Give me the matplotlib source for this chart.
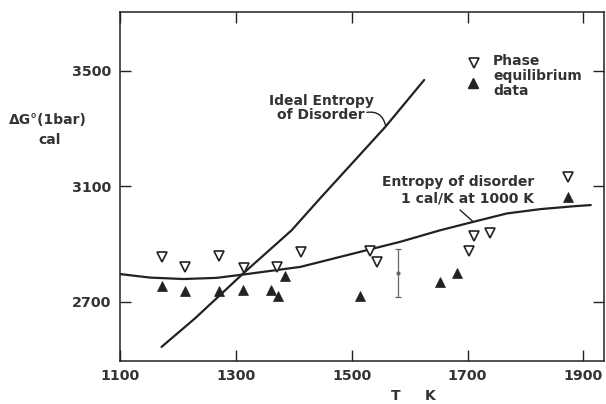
import matplotlib
matplotlib.use("Agg")
import matplotlib.pyplot as plt

# ---- data ----
open_T = [1172, 1212, 1271, 1313, 1371, 1412, 1531, 1544, 1702, 1711, 1739, 1873]
open_G = [2856, 2821, 2858, 2818, 2821, 2873, 2877, 2839, 2877, 2929, 2937, 3133]

fill_T = [1172, 1212, 1271, 1312, 1360, 1373, 1384, 1514, 1652, 1682, 1873]
fill_G = [2754, 2738, 2737, 2740, 2740, 2721, 2789, 2720, 2769, 2800, 3064]

ideal_T = [1171, 1229, 1312, 1396, 1445, 1558, 1625]
ideal_G = [2544, 2643, 2798, 2948, 3058, 3306, 3468]

dis_T = [1100, 1151, 1209, 1266, 1314, 1411, 1526, 1584, 1653, 1710, 1768, 1826, 1884, 1913]
dis_G = [2796, 2784, 2779, 2783, 2795, 2821, 2879, 2908, 2948, 2977, 3006, 3021, 3031, 3035]

err_T = [1579]
err_G = [2800]
err_half = [83]

x_ticks = [1100, 1300, 1500, 1700, 1900]
y_ticks = [2700, 3100, 3500]

ink = "#222222"
txt = "#333333"
FONT = "DejaVu Sans"

fig = plt.figure(figsize=(6.06, 4.04), dpi=100)
ax = fig.add_axes([0.1988, 0.107, 0.798, 0.863])

ax.plot(dis_T, dis_G, color=ink, lw=1.6, solid_joinstyle="round", solid_capstyle="round")
ax.plot(ideal_T, ideal_G, color=ink, lw=1.6, solid_joinstyle="round", solid_capstyle="round")

ax.plot(open_T, open_G, linestyle="none", marker="v", markersize=7,
        markerfacecolor="white", markeredgecolor=ink, markeredgewidth=1.2)
ax.plot(fill_T, fill_G, linestyle="none", marker="^", markersize=7,
        markerfacecolor=ink, markeredgecolor=ink, markeredgewidth=0.5)

ax.errorbar(err_T, err_G, yerr=err_half, fmt="o", markersize=2, color="#666666",
            ecolor="#666666", elinewidth=0.9, capsize=2.5, capthick=0.9)

ax.set_xlim(1100, 1936)
ax.set_ylim(2496, 3703)
ax.set_xticks(x_ticks)
ax.set_yticks(y_ticks)
ax.set_xticklabels([str(v) for v in x_ticks])
ax.set_yticklabels([str(v) for v in y_ticks])

ax.tick_params(direction="in", length=8, width=1.0, color=ink,
               top=True, right=True, labelsize=10.3, labelcolor=txt)
ax.tick_params(axis="x", pad=6.0)
ax.tick_params(axis="y", pad=6.3)
for lab in ax.get_xticklabels() + ax.get_yticklabels():
    lab.set_fontfamily(FONT)
    lab.set_fontweight("bold")
for s in ax.spines.values():
    s.set_linewidth(1.1)
    s.set_color(ink)

tk = dict(fontfamily=FONT, fontweight="bold", fontsize=10, color=txt)

# y label
fig.text(48/606, 1 - 120/404, "ΔG°(1bar)", ha="center", va="center", **tk)
fig.text(50/606, 1 - 140/404, "cal", ha="center", va="center", **tk)
# x label
fig.text(413/606, 1 - 396/404, "T     K", ha="center", va="center", **tk)

# Ideal entropy annotation
ax.text(1447, 3372, "Ideal Entropy\nof Disorder", ha="center", va="center",
        linespacing=0.97, **tk)
ax.annotate("", xy=(1558, 3312), xytext=(1526, 3356),
            arrowprops=dict(arrowstyle="-", color=ink, lw=1.0,
                            connectionstyle="arc3,rad=-0.45", shrinkA=0, shrinkB=0))

# Entropy of disorder annotation
ax.text(1815, 3085, "Entropy of disorder\n1 cal/K at 1000 K", ha="right", va="center",
        linespacing=1.23, **tk)
ax.annotate("", xy=(1710, 2977), xytext=(1687, 3018),
            arrowprops=dict(arrowstyle="-", color=ink, lw=1.0, shrinkA=0, shrinkB=0))

# legend-like label
ax.plot([1712], [3526], linestyle="none", marker="v", markersize=7,
        markerfacecolor="white", markeredgecolor=ink, markeredgewidth=1.2)
ax.plot([1710], [3456], linestyle="none", marker="^", markersize=7,
        markerfacecolor=ink, markeredgecolor=ink)
ax.text(1744, 3482, "Phase\nequilibrium\ndata", ha="left", va="center",
        linespacing=1.12, **tk)

fig.savefig("out.png", dpi=100)
